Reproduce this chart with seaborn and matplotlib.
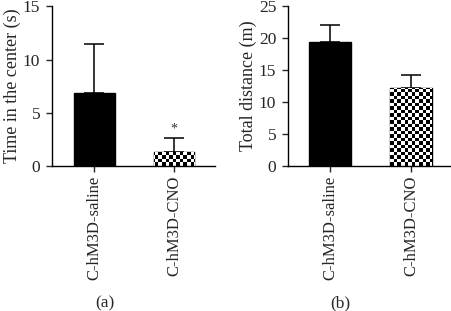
import matplotlib
matplotlib.use("Agg")
import matplotlib.pyplot as plt
import numpy as np
import pandas as pd
import seaborn as sns

groups = ["C-hM3D-saline", "C-hM3D-CNO"]
time_center = [6.9, 1.35]
time_center_err = [4.6, 1.25]
total_distance = [19.4, 12.2]
total_distance_err = [2.6, 2.1]

sns.set_style("ticks")
plt.rcParams["font.family"] = ["Liberation Serif", "DejaVu Serif"]
plt.rcParams["font.size"] = 12.5

fig = plt.figure(figsize=(4.51, 3.11), dpi=100)
ax_a = fig.add_axes([0.1153, 0.466, 0.361, 0.514])
ax_b = fig.add_axes([0.6386, 0.466, 0.361, 0.514])


def checker(ax, bar):
    # checkerboard texture clipped to the bar
    x0, x1 = ax.get_xlim()
    y0, y1 = ax.get_ylim()
    n = 46
    pat = np.indices((n, n)).sum(axis=0) % 2
    im = ax.imshow(pat, cmap="gray", extent=[x0, x1, y0, y1], aspect="auto",
                   interpolation="nearest", zorder=bar.get_zorder() + 0.1)
    im.set_clip_path(bar)
    ax.set_xlim(x0, x1)
    ax.set_ylim(y0, y1)


def panel(ax, vals, errs, ylim, yticks, ylabel, letter, pos, xlim, star=False):
    df = pd.DataFrame({"group": groups, "value": vals})
    sns.barplot(data=df, x="group", y="value", hue="group",
                palette=["black", "white"], edgecolor="black", linewidth=1.0,
                width=0.51, legend=False, ax=ax, zorder=2)
    ax.errorbar(range(len(vals)), vals, yerr=[[0] * len(vals), errs], fmt="none",
                ecolor="black", elinewidth=1.1, capsize=7.5, capthick=1.1, zorder=1)
    ax.set_xlim(*xlim)
    ax.set_ylim(*ylim)
    ax.set_yticks(yticks)
    checker(ax, ax.patches[1])
    ax.set_xlabel("")
    ax.set_ylabel(ylabel, fontsize=13, labelpad=1.5)
    ax.tick_params(axis="x", rotation=90, length=4, width=1, labelsize=12, pad=3)
    ax.tick_params(axis="y", length=4, width=1, labelsize=12.5, pad=4.5)
    for s in ["left", "bottom"]:
        ax.spines[s].set_linewidth(1.0)
        ax.spines[s].set_color("black")
    sns.despine(ax=ax)
    if star:
        ax.annotate("*", (1, vals[1] + errs[1]), xytext=(0, 2),
                    textcoords="offset points", ha="center", va="bottom",
                    fontsize=10, color="#333333")
    fig.text(pos[0] / 451, 1 - pos[1] / 311, letter, ha="center", va="center",
             fontsize=12.5)


panel(ax_a, time_center, time_center_err, (0, 15), [0, 5, 10, 15],
      "Time in the center (s)", "(a)", (105, 303), (-0.53, 1.51), star=True)
panel(ax_b, total_distance, total_distance_err, (0, 25), [0, 5, 10, 15, 20, 25],
      "Total distance (m)", "(b)", (340, 303), (-0.52, 1.49))

fig.savefig("out.png", dpi=100)
